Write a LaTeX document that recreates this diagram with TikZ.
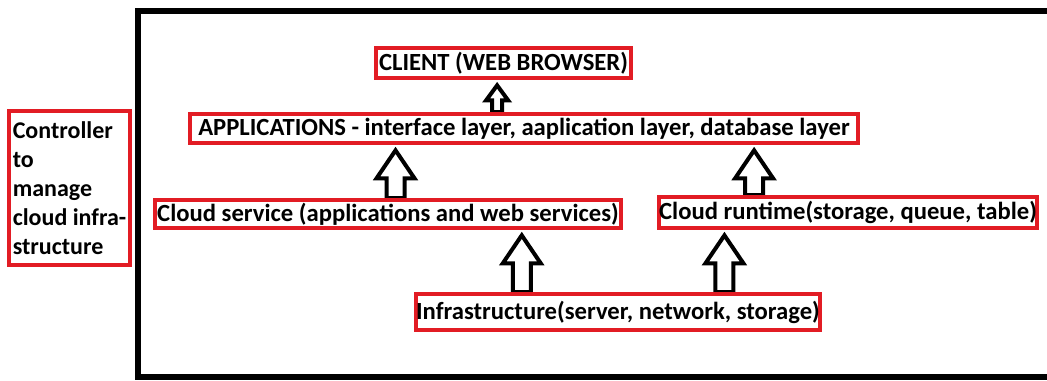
\documentclass[tikz,border=0pt]{standalone}
\usepackage{fontspec}
\setmainfont{Carlito}
\usetikzlibrary{calc}
\pgfdeclarelayer{arrowlayer}
\pgfsetlayers{arrowlayer,main}
\definecolor{boxred}{RGB}{226,28,36}

% one unit = 0.75pt, y grows downwards
\tikzset{
  layer/.style={draw=boxred, line width=3pt, fill=white, inner sep=0pt,
    font=\bfseries\fontsize{18.5}{21}\selectfont},
  % hollow block arrow: shaft half width / head half width / head length
  blockarrow/.style args={#1/#2/#3}{draw=black, line width=3pt, fill=white,
    line join=miter,
    to path={let \p1=(\tikztostart), \p2=(\tikztotarget) in
      (\x1-#1,\y1) -- (\x1-#1,\y2-#3) -- (\x1-#2,\y2-#3) -- (\x1,\y2)
      -- (\x1+#2,\y2-#3) -- (\x1+#1,\y2-#3) -- (\x1+#1,\y1) -- cycle}},
  bigarrow/.style={blockarrow=6.75pt/14.25pt/21pt},
  smallarrow/.style={blockarrow=3.75pt/8.25pt/11.25pt},
}

\begin{document}
\begin{tikzpicture}[x=0.75pt,y=-0.75pt]
\useasboundingbox (0,0) rectangle (1047,380);

% outer frame, open past the right edge
\draw[line width=4.5pt] (1070,11) -- (138,11) -- (138,377) -- (1070,377);

% controller
\node[layer, align=left, inner xsep=3pt,
  minimum width=87.75pt, minimum height=115.5pt,
  font=\bfseries\fontsize{18}{21.75}\selectfont] (ctrl) at (69.5,188)
  {Controller\\to\\manage\\cloud infra-\\structure};

% layers
\node[layer, minimum width=191.25pt, minimum height=22.5pt] (client) at (503.5,63)
  {CLIENT (WEB BROWSER)};
\node[layer, minimum width=501pt, minimum height=21.75pt] (apps) at (524,128.5)
  {APPLICATIONS - interface layer, aaplication layer, database layer};
\node[layer, minimum width=349.5pt, minimum height=21pt] (cs) at (388,214)
  {Cloud service (applications and web services)};
\node[layer, minimum width=282pt, minimum height=23.25pt] (rt) at (848,212.5)
  {Cloud runtime(storage, queue, table)};
\node[layer, minimum width=301.5pt, minimum height=27pt] (inf) at (618,312)
  {Infrastructure(server, network, storage)};

% arrows behind the boxes
\begin{pgfonlayer}{arrowlayer}
  \draw[smallarrow] ($(apps.north west)!0.46!(apps.north east)$) to ([yshift=-4pt]client.south);
  \draw[bigarrow] ($(cs.north west)!0.516!(cs.north east)$) to ([yshift=-4pt]apps.south);
  \draw[bigarrow] ($(rt.north west)!0.254!(rt.north east)$) to ([yshift=-4pt]apps.south);
  \draw[bigarrow] ($(inf.north west)!0.264!(inf.north east)$) to ([yshift=-4pt]cs.south);
  \draw[bigarrow] ($(inf.north west)!0.761!(inf.north east)$) to ([yshift=-4pt]rt.south);
\end{pgfonlayer}
\end{tikzpicture}
\end{document}
